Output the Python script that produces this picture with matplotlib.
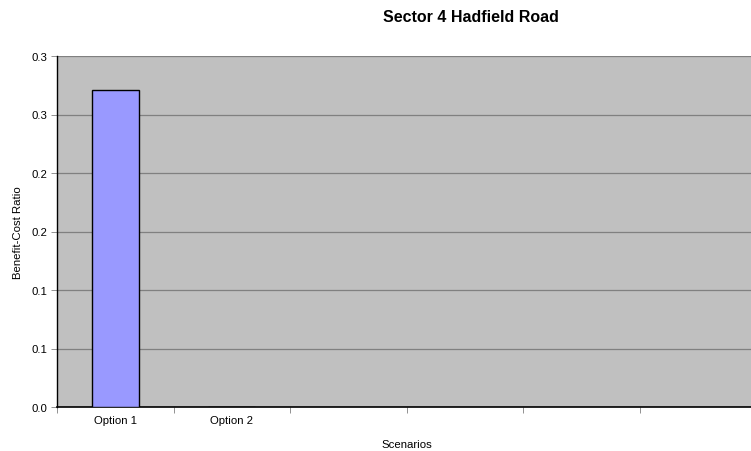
"""
Sector 4 Hadfield Road — benefit-cost ratio by scenario (Excel-style bar chart)
"""

import matplotlib
matplotlib.use("Agg")
import matplotlib.pyplot as plt
import numpy as np

# ================================================================
# DATA
# ================================================================

CATEGORIES = ["Option 1", "Option 2", "", "", "", ""]
BCR_VALUES = [0.271, 0.0, np.nan, np.nan, np.nan, np.nan]

Y_TICKS = [0.0, 0.05, 0.10, 0.15, 0.20, 0.25, 0.30]
Y_TICK_LABELS = ["0.0", "0.1", "0.1", "0.2", "0.2", "0.3", "0.3"]

TITLE = "Sector 4 Hadfield Road"
X_LABEL = "Scenarios"
Y_LABEL = "Benefit-Cost Ratio"

# ================================================================
# STYLE
# ================================================================

plt.rcParams.update({
    "font.family": ["Liberation Sans", "DejaVu Sans"],
    "font.size": 8.2,
})

PLOT_BG = "#C0C0C0"
BAR_COLOR = "#9999FF"
GRID_COLOR = "#808080"


def main():
    fig = plt.figure(figsize=(7.51, 4.52), dpi=100)
    ax = fig.add_axes([57 / 751, 44 / 452, 699 / 751, 351 / 452])
    ax.set_facecolor(PLOT_BG)

    x = np.arange(len(CATEGORIES))
    ax.bar(x, BCR_VALUES, width=0.4, color=BAR_COLOR,
           edgecolor="black", linewidth=1.0, zorder=3)

    ax.set_xlim(-0.5, len(CATEGORIES) - 0.5)
    ax.set_ylim(0, 0.30)

    # y axis
    ax.set_yticks(Y_TICKS)
    ax.set_yticklabels(Y_TICK_LABELS)
    ax.yaxis.grid(True, color=GRID_COLOR, linewidth=0.9, zorder=1)
    ax.set_axisbelow(True)
    ax.tick_params(axis="y", direction="out", length=4, width=0.6,
                   color="#808080", pad=3, labelsize=8.2)

    # x axis: labels at centres, tick marks at category boundaries
    ax.set_xticks(x)
    ax.set_xticklabels(CATEGORIES)
    ax.tick_params(axis="x", which="major", length=0, pad=6, labelsize=8.2)
    ax.set_xticks(np.arange(len(CATEGORIES) + 1) - 0.5, minor=True)
    ax.tick_params(axis="x", which="minor", direction="out", length=4,
                   width=0.6, color="#808080")

    for side in ["top", "right"]:
        ax.spines[side].set_visible(False)
    ax.spines["left"].set_color("black")
    ax.spines["left"].set_linewidth(1.0)
    ax.spines["bottom"].set_color("black")
    ax.spines["bottom"].set_linewidth(1.2)

    ax.set_xlabel(X_LABEL, fontsize=8.2, labelpad=10)
    ax.set_ylabel(Y_LABEL, fontsize=8.2, labelpad=6)

    fig.text(471 / 751, 1 - 18 / 452, TITLE, ha="center", va="center",
             fontsize=11.5, fontweight="bold")

    fig.savefig("out.png", dpi=100)
    plt.close(fig)


if __name__ == "__main__":
    main()
